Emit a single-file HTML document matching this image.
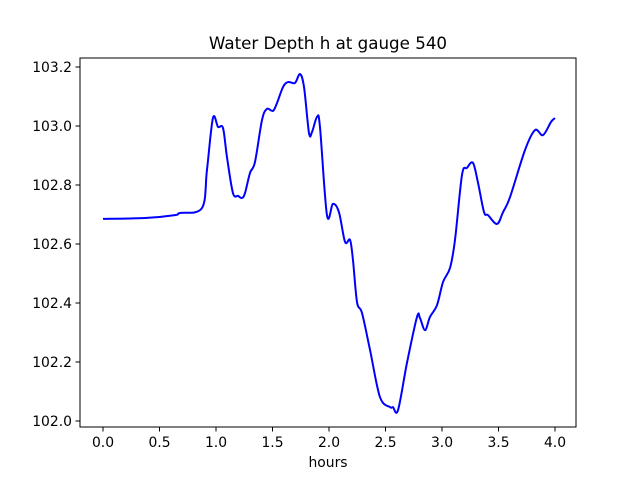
<!DOCTYPE html>
<html><head><meta charset="utf-8"><style>
body{margin:0;background:#fff}
svg{display:block;font-family:"DejaVu Sans","Liberation Sans",sans-serif}
</style></head><body>
<svg id="chart" width="640" height="480" viewBox="0 0 640 480">
<rect width="640" height="480" fill="#fff"/>
<text x="328" y="49" font-size="16.7" text-anchor="middle">Water Depth h at gauge 540</text>
<g id="xticks"></g>
<g id="yticks"></g>
<path id="line" fill="none" stroke="#0000ff" stroke-width="2" stroke-linejoin="round"/>
<rect x="80" y="58" width="496" height="369" fill="none" stroke="#000" stroke-width="1"/>
<text x="328" y="467" font-size="13.9" text-anchor="middle">hours</text>
</svg>
<script>
const hours = [0,0.372,0.637,0.681,0.876,0.920,0.973,1.018,1.062,1.097,1.150,1.195,1.230,1.257,1.301,1.345,1.407,1.451,1.504,1.540,1.593,1.637,1.699,1.743,1.779,1.823,1.850,1.894,1.920,1.982,2.035,2.088,2.142,2.186,2.212,2.248,2.292,2.363,2.451,2.540,2.566,2.611,2.690,2.779,2.805,2.850,2.894,2.956,3.009,3.071,3.115,3.177,3.221,3.274,3.319,3.372,3.407,3.487,3.540,3.602,3.735,3.823,3.894,3.965,4.0];
const depth = [102.685,102.688,102.698,102.705,102.722,102.851,103.027,102.997,102.993,102.895,102.773,102.763,102.756,102.773,102.841,102.878,103.020,103.058,103.051,103.078,103.132,103.149,103.146,103.176,103.132,102.976,102.980,103.031,102.997,102.698,102.736,102.708,102.607,102.614,102.546,102.403,102.366,102.241,102.081,102.047,102.047,102.037,102.197,102.353,102.349,102.308,102.353,102.393,102.471,102.519,102.614,102.834,102.858,102.875,102.807,102.708,102.698,102.668,102.708,102.759,102.919,102.986,102.969,103.014,103.027];
const xTickLabels = ["0.0","0.5","1.0","1.5","2.0","2.5","3.0","3.5","4.0"];
const yTickLabels = ["102.0","102.2","102.4","102.6","102.8","103.0","103.2"];

const NS="http://www.w3.org/2000/svg";
const xs = t => 103 + t*113;
const ys = h => 185 - (h-102.8)*295;

const xg=document.getElementById('xticks');
xTickLabels.forEach(l=>{
  const x=xs(parseFloat(l));
  const ln=document.createElementNS(NS,'line');
  ln.setAttribute('x1',x);ln.setAttribute('x2',x);ln.setAttribute('y1',427);ln.setAttribute('y2',431.5);ln.setAttribute('stroke','#000');
  
  
  xg.appendChild(ln);
  const tx=document.createElementNS(NS,'text');
  tx.setAttribute('x',x);tx.setAttribute('y',447);tx.setAttribute('font-size','13.9');tx.setAttribute('text-anchor','middle');
  tx.textContent=l;
  
  
  xg.appendChild(tx);
});
const yg=document.getElementById('yticks');
yTickLabels.forEach(l=>{
  const y=ys(parseFloat(l));
  const ln=document.createElementNS(NS,'line');
  ln.setAttribute('x1',75.5);ln.setAttribute('x2',80);ln.setAttribute('y1',y);ln.setAttribute('y2',y);ln.setAttribute('stroke','#000');
  
  
  yg.appendChild(ln);
  const tx=document.createElementNS(NS,'text');
  tx.setAttribute('x',72);tx.setAttribute('y',y+5);tx.setAttribute('font-size','13.9');tx.setAttribute('text-anchor','end');
  tx.textContent=l;
  
  
  yg.appendChild(tx);
});
const P=hours.map((t,i)=>[xs(t),ys(depth[i])]);
let d=`M${P[0][0]},${P[0][1]}`;
for(let i=0;i<P.length-1;i++){
  const p0=P[Math.max(0,i-1)],p1=P[i],p2=P[i+1],p3=P[Math.min(P.length-1,i+2)];
  const c1=[p1[0]+(p2[0]-p0[0])/6,p1[1]+(p2[1]-p0[1])/6];
  const c2=[p2[0]-(p3[0]-p1[0])/6,p2[1]-(p3[1]-p1[1])/6];
  d+=` C${c1[0]},${c1[1]} ${c2[0]},${c2[1]} ${p2[0]},${p2[1]}`;
}
document.getElementById('line').setAttribute('d',d);
</script>
</body></html>
